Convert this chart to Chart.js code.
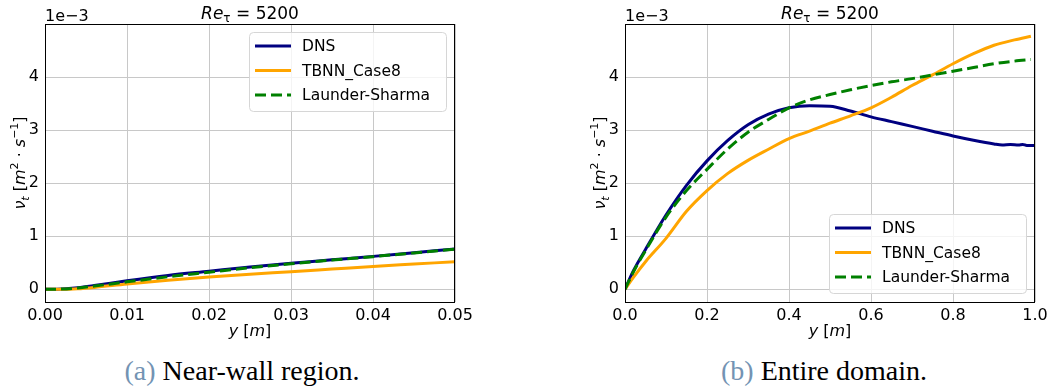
<!DOCTYPE html>
<html>
<head>
  <title>Turbulent viscosity, Re_tau = 5200</title>
  <meta charset="utf-8" />
  <script src="https://cdn.jsdelivr.net/npm/chart.js"></script>
  <style>
    body {
      margin: 0;
      padding: 0;
      background: #fff;
      width: 1052px;
      height: 387px;
      position: relative;
      overflow: hidden;
    }
    canvas { position: absolute; top: 0; }
    #left { left: 0; }
    #right { left: 580px; }
    .cap {
      position: absolute;
      top: 355px;
      font-family: "Liberation Serif", "DejaVu Serif", serif;
      font-size: 28px;
      color: #000;
      text-align: center;
      width: 400px;
      line-height: 32px;
    }
    .cap span { color: #7393b3; }
  </style>
</head>
<body>
  <canvas id="left" width="480" height="345"></canvas>
  <canvas id="right" width="472" height="345"></canvas>
  <div class="cap" style="left:42px"><span>(a)</span> Near-wall region.</div>
  <div class="cap" style="left:624px"><span>(b)</span> Entire domain.</div>

  <script>
    // values in units of 1e-3 m^2/s
    const seriesNames = ["DNS", "TBNN_Case8", "Launder-Sharma"];
    const yTicks = [0, 1, 2, 3, 4];

    // (a) near wall
    const nearX    = [0, 0.002, 0.004, 0.006, 0.01, 0.015, 0.02, 0.025, 0.03, 0.035, 0.04, 0.045, 0.05];
    const nearDns  = [0, 0.005, 0.03, 0.07, 0.16, 0.26, 0.34, 0.42, 0.49, 0.555, 0.62, 0.69, 0.76];
    const nearTbnn = [0, 0, 0.01, 0.035, 0.10, 0.17, 0.23, 0.285, 0.33, 0.38, 0.43, 0.475, 0.52];
    const nearLs   = [0, 0.004, 0.025, 0.06, 0.14, 0.235, 0.32, 0.405, 0.48, 0.55, 0.615, 0.685, 0.755];
    const nearXTicks = [0, 0.01, 0.02, 0.03, 0.04, 0.05];

    // (b) whole domain
    const dnsX  = [0, 0.02, 0.05, 0.1, 0.15, 0.2, 0.25, 0.3, 0.35, 0.4, 0.45, 0.5, 0.55, 0.6, 0.65, 0.7, 0.75, 0.8, 0.85, 0.9, 0.92, 0.94, 0.96, 0.97, 0.98, 1.0];
    const dnsV  = [0, 0.34, 0.75, 1.40, 1.96, 2.42, 2.80, 3.10, 3.30, 3.42, 3.46, 3.45, 3.36, 3.25, 3.16, 3.07, 2.98, 2.89, 2.81, 2.74, 2.72, 2.73, 2.72, 2.73, 2.71, 2.71];
    const modelX = [0, 0.02, 0.05, 0.1, 0.15, 0.2, 0.25, 0.3, 0.35, 0.4, 0.45, 0.5, 0.55, 0.6, 0.65, 0.7, 0.75, 0.8, 0.85, 0.9, 0.95, 0.99];
    const tbnnV = [0, 0.22, 0.52, 0.96, 1.47, 1.86, 2.18, 2.43, 2.64, 2.84, 2.98, 3.13, 3.27, 3.42, 3.62, 3.84, 4.04, 4.25, 4.44, 4.60, 4.70, 4.77];
    const lsV   = [0, 0.32, 0.73, 1.36, 1.86, 2.26, 2.64, 2.96, 3.20, 3.42, 3.57, 3.67, 3.76, 3.84, 3.91, 3.97, 4.04, 4.11, 4.18, 4.25, 4.30, 4.33];
    const fullXTicks = [0, 0.2, 0.4, 0.6, 0.8, 1.0];

    const colors = ["#000080", "#ffa500", "#008000"];
    const sans = '"DejaVu Sans", sans-serif';

    function pts(xs, ys) {
      return xs.map((x, i) => ({ x: x, y: ys[i] }));
    }

    // draws a row of text pieces (italic, sub/superscripts)
    function drawRich(ctx, parts, x, y) {
      let w = 0;
      parts.forEach(p => {
        ctx.font = (p.it ? 'oblique ' : '') + (p.size || 16) + 'px ' + sans;
        p.w = ctx.measureText(p.t).width;
        w += p.w;
      });
      let cx = x - w / 2;
      ctx.textAlign = 'left';
      ctx.textBaseline = 'alphabetic';
      parts.forEach(p => {
        ctx.font = (p.it ? 'oblique ' : '') + (p.size || 16) + 'px ' + sans;
        ctx.fillText(p.t, cx, y + (p.dy || 0));
        cx += p.w;
      });
    }

    const deco = {
      id: 'deco',
      afterDraw(chart, args, opts) {
        const ctx = chart.ctx;
        const a = chart.chartArea;
        ctx.save();
        // frame
        ctx.strokeStyle = '#000';
        ctx.lineWidth = 1;
        ctx.strokeRect(a.left + 0.5, a.top + 0.5, a.right - a.left - 1, a.bottom - a.top);
        ctx.fillStyle = '#000';
        // offset text
        ctx.font = '16px ' + sans;
        ctx.textAlign = 'left';
        ctx.textBaseline = 'alphabetic';
        ctx.fillText('1e\u22123', a.left, a.top - 3);
        // title
        const mid = (a.left + a.right) / 2;
        drawRich(ctx, [
          { t: 'Re', it: true, size: 17 }, { t: '\u03c4', size: 12, dy: 3 }, { t: ' = 5200', size: 17 }
        ], mid, 19);
        // x label
        drawRich(ctx, [
          { t: 'y', it: true }, { t: ' [' }, { t: 'm', it: true }, { t: ']' }
        ], mid, 336);
        // y label
        ctx.save();
        ctx.translate(opts.ylabelX, (a.top + a.bottom) / 2);
        ctx.rotate(-Math.PI / 2);
        drawRich(ctx, [
          { t: '\u03bd', it: true }, { t: 't', it: true, size: 11, dy: 4 },
          { t: ' [' }, { t: 'm', it: true }, { t: '2', size: 11, dy: -7 },
          { t: ' \u00b7 ' }, { t: 's', it: true }, { t: '\u22121', size: 11, dy: -7 }, { t: ']' }
        ], 0, 6);
        ctx.restore();
        // legend
        const L = opts.legend;
        const bx = a.right - 9 - L.w;
        const by = L.top ? a.top + 8 : a.bottom - 9 - L.h;
        ctx.beginPath();
        ctx.roundRect(bx + 0.5, by + 0.5, L.w, L.h, 4);
        ctx.fillStyle = 'rgba(255,255,255,0.8)';
        ctx.fill();
        ctx.strokeStyle = '#d6d6d6';
        ctx.stroke();
        chart.data.datasets.forEach((ds, i) => {
          const ry = by + 14 + i * 24.5;
          ctx.beginPath();
          ctx.setLineDash(ds.borderDash || []);
          ctx.strokeStyle = ds.borderColor;
          ctx.lineWidth = 3;
          ctx.moveTo(bx + 6, ry);
          ctx.lineTo(bx + 42, ry);
          ctx.stroke();
          ctx.setLineDash([]);
          ctx.fillStyle = '#000';
          ctx.font = '15.5px ' + sans;
          ctx.textBaseline = 'middle';
          ctx.fillText(ds.label, bx + 53, ry + 1);
        });
        ctx.restore();
      }
    };

    function makeChart(id, sets, xMax, xTicks, digits, rightPad, legend) {
      return new Chart(document.getElementById(id), {
        type: 'line',
        data: {
          datasets: sets.map((d, i) => ({
            label: seriesNames[i],
            data: d,
            borderColor: colors[i],
            borderWidth: 3,
            borderDash: i === 2 ? [11, 5] : undefined,
            order: 2 - i,
            pointRadius: 0,
            fill: false,
            cubicInterpolationMode: 'monotone'
          }))
        },
        options: {
          responsive: false,
          animation: false,
          events: [],
          layout: { padding: { left: 0, right: rightPad, top: 24, bottom: 0 } },
          plugins: {
            legend: { display: false },
            title: { display: false },
            tooltip: { enabled: false },
            deco: { ylabelX: 19, legend: legend }
          },
          scales: {
            x: {
              type: 'linear',
              min: 0,
              max: xMax,
              afterBuildTicks: s => { s.ticks = xTicks.map(v => ({ value: v })); },
              afterFit: s => { s.height = 43; s.paddingLeft = 0; s.paddingRight = 0; },
              grid: { color: '#c8c8c8', lineWidth: 1, drawTicks: false },
              border: { display: false },
              ticks: {
                color: '#000',
                padding: 4,
                maxRotation: 0,
                font: { family: sans, size: 16 },
                callback: v => v.toFixed(digits)
              }
            },
            y: {
              min: -0.24,
              max: 5.0,
              afterBuildTicks: s => { s.ticks = yTicks.map(v => ({ value: v })); },
              afterFit: s => { s.width = 45; s.paddingTop = 0; s.paddingBottom = 0; },
              grid: { color: '#c8c8c8', lineWidth: 1, drawTicks: false },
              border: { display: false },
              ticks: {
                color: '#000',
                padding: 6,
                font: { family: sans, size: 16 },
                callback: v => String(v)
              }
            }
          }
        },
        plugins: [deco]
      });
    }

    makeChart('left',
      [pts(nearX, nearDns), pts(nearX, nearTbnn), pts(nearX, nearLs)],
      0.05, nearXTicks, 2, 25, { w: 197, h: 79, top: true });

    makeChart('right',
      [pts(dnsX, dnsV), pts(modelX, tbnnV), pts(modelX, lsV)],
      1.0, fullXTicks, 1, 17, { w: 197, h: 79, top: false });
  </script>
</body>
</html>
